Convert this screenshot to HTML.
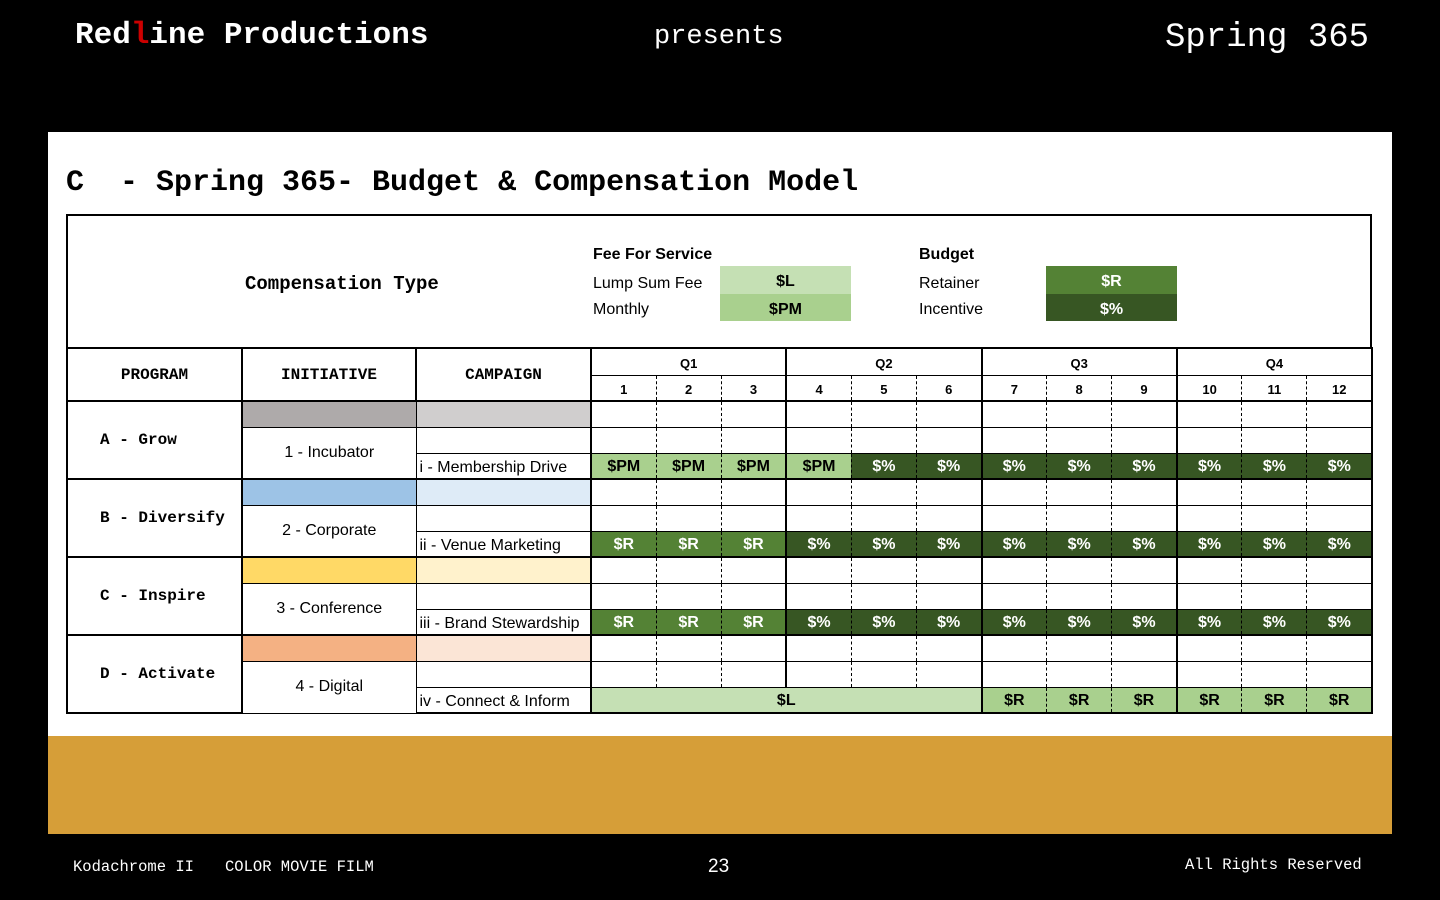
<!DOCTYPE html>
<html><head><meta charset="utf-8"><style>
*{margin:0;padding:0;box-sizing:border-box}
body{width:1440px;height:900px;background:#000;position:relative;overflow:hidden;font-family:"Liberation Sans",sans-serif}
.mono{font-family:"Liberation Mono",monospace;font-weight:bold}
.abs{position:absolute;white-space:nowrap}
.cal{font-family:"Liberation Sans Narrow","Liberation Sans",sans-serif}
#panel{position:absolute;left:48px;top:132px;width:1344px;height:604px;background:#fff}
#gold{position:absolute;left:48px;top:736px;width:1344px;height:98px;background:#d69e38}
#box{position:absolute;left:66px;top:214px;width:1306px;height:134px;border:2px solid #000;border-bottom:none}
table{position:absolute;left:66px;top:347px;width:1305px;border-collapse:collapse;table-layout:fixed}
td{border:1px solid #000;height:26px;font-size:16px;text-align:center;vertical-align:middle;padding:0;font-family:"Liberation Sans Narrow","Liberation Sans",sans-serif}
td.h{font-family:"Liberation Mono",monospace;font-weight:bold;font-size:16px;border:2px solid #000}
td.prog{font-family:"Liberation Mono",monospace;font-weight:bold;font-size:16px;text-align:left;padding-left:32px;border:2px solid #000}
td.init{border-left:2px solid #000}
td.camp{text-align:left;padding-left:3px;padding-top:4px}
td.m,td.q{border-right:1px dashed #000}
td.m{border-left:1px dashed #000}
td.q{border-left:2px solid #000}
tr.g td{border-top:2px solid #000}
tr.end td{border-bottom:2px solid #000}
td.pm{background:#a9d08e;font-weight:bold}
td.l{background:#c5e0b4;font-weight:bold}
td.r{background:#548235;color:#fff;font-weight:bold}
td.p{background:#375623;color:#fff;font-weight:bold}
td.rl{background:#a9d08e;font-weight:bold}
td.sm{font-size:13px;font-weight:bold;height:26px;padding-top:3px}
tr.hd1 td.sm{height:27px;border-right:2px solid #000}
td.last{border-right:2px solid #000 !important}
td.pm,td.r,td.p,td.rl,td.l{padding-top:3px}
</style></head><body>
<div class="abs mono" style="left:75px;top:18px;font-size:31px;color:#fff">Red<span style="color:#c00">l</span>ine Productions</div>
<div class="abs mono" style="left:654px;top:22px;font-size:27px;color:#fff;font-weight:normal">presents</div>
<div class="abs mono" style="left:1165px;top:19px;font-size:34px;color:#fff;font-weight:normal">Spring 365</div>
<div id="panel"></div>
<div id="gold"></div>
<div class="abs mono" style="left:66px;top:166px;font-size:30px;color:#000">C&nbsp;&nbsp;- Spring 365- Budget &amp; Compensation Model</div>
<div id="box"></div>
<div class="abs mono" style="left:245px;top:273px;font-size:19px">Compensation Type</div>
<div class="abs cal" style="left:593px;top:246px;font-size:16px;font-weight:bold">Fee For Service</div>
<div class="abs cal" style="left:593px;top:275px;font-size:16px">Lump Sum Fee</div>
<div class="abs cal" style="left:593px;top:301px;font-size:16px">Monthly</div>
<div class="abs cal" style="left:720px;top:266px;width:131px;height:28px;background:#c5e0b4;text-align:center;line-height:32px;font-weight:bold;font-size:16px">$L</div>
<div class="abs cal" style="left:720px;top:294px;width:131px;height:27px;background:#a9d08e;text-align:center;line-height:31px;font-weight:bold;font-size:16px">$PM</div>
<div class="abs cal" style="left:919px;top:246px;font-size:16px;font-weight:bold">Budget</div>
<div class="abs cal" style="left:919px;top:275px;font-size:16px">Retainer</div>
<div class="abs cal" style="left:919px;top:301px;font-size:16px">Incentive</div>
<div class="abs cal" style="left:1046px;top:266px;width:131px;height:28px;background:#548235;color:#fff;text-align:center;line-height:32px;font-weight:bold;font-size:16px">$R</div>
<div class="abs cal" style="left:1046px;top:294px;width:131px;height:27px;background:#375623;color:#fff;text-align:center;line-height:31px;font-weight:bold;font-size:16px">$%</div>

<table>
<colgroup><col style="width:175px"><col style="width:174px"><col style="width:175px"><col span="12" style="width:65.08px"></colgroup>
<tr class="hd1"><td class="h" rowspan="2">PROGRAM</td><td class="h" rowspan="2">INITIATIVE</td><td class="h" rowspan="2">CAMPAIGN</td><td class="sm q" colspan="3" style="border-top:2px solid #000">Q1</td><td class="sm q" colspan="3" style="border-top:2px solid #000">Q2</td><td class="sm q" colspan="3" style="border-top:2px solid #000">Q3</td><td class="sm q last" colspan="3" style="border-top:2px solid #000">Q4</td></tr>
<tr><td class="sm q">1</td><td class="sm m">2</td><td class="sm m">3</td><td class="sm q">4</td><td class="sm m">5</td><td class="sm m">6</td><td class="sm q">7</td><td class="sm m">8</td><td class="sm m">9</td><td class="sm q">10</td><td class="sm m">11</td><td class="sm m last">12</td></tr>

<tr class="g"><td class="prog" rowspan="3">A - Grow</td><td style="background:#aeaaaa"></td><td style="background:#d0cece"></td><td class="q"></td><td class="m"></td><td class="m"></td><td class="q"></td><td class="m"></td><td class="m"></td><td class="q"></td><td class="m"></td><td class="m"></td><td class="q"></td><td class="m"></td><td class="m last"></td></tr>
<tr><td class="init" rowspan="2">1 - Incubator</td><td></td><td class="q"></td><td class="m"></td><td class="m"></td><td class="q"></td><td class="m"></td><td class="m"></td><td class="q"></td><td class="m"></td><td class="m"></td><td class="q"></td><td class="m"></td><td class="m last"></td></tr>
<tr><td class="camp">i - Membership Drive</td><td class="q pm">$PM</td><td class="m pm">$PM</td><td class="m pm">$PM</td><td class="q pm">$PM</td><td class="m p">$%</td><td class="m p">$%</td><td class="q p">$%</td><td class="m p">$%</td><td class="m p">$%</td><td class="q p">$%</td><td class="m p">$%</td><td class="m p last">$%</td></tr>

<tr class="g"><td class="prog" rowspan="3">B - Diversify</td><td style="background:#9dc3e6"></td><td style="background:#deebf7"></td><td class="q"></td><td class="m"></td><td class="m"></td><td class="q"></td><td class="m"></td><td class="m"></td><td class="q"></td><td class="m"></td><td class="m"></td><td class="q"></td><td class="m"></td><td class="m last"></td></tr>
<tr><td class="init" rowspan="2">2 - Corporate</td><td></td><td class="q"></td><td class="m"></td><td class="m"></td><td class="q"></td><td class="m"></td><td class="m"></td><td class="q"></td><td class="m"></td><td class="m"></td><td class="q"></td><td class="m"></td><td class="m last"></td></tr>
<tr><td class="camp">ii - Venue Marketing</td><td class="q r">$R</td><td class="m r">$R</td><td class="m r">$R</td><td class="q p">$%</td><td class="m p">$%</td><td class="m p">$%</td><td class="q p">$%</td><td class="m p">$%</td><td class="m p">$%</td><td class="q p">$%</td><td class="m p">$%</td><td class="m p last">$%</td></tr>

<tr class="g"><td class="prog" rowspan="3">C - Inspire</td><td style="background:#ffd966"></td><td style="background:#fff2cc"></td><td class="q"></td><td class="m"></td><td class="m"></td><td class="q"></td><td class="m"></td><td class="m"></td><td class="q"></td><td class="m"></td><td class="m"></td><td class="q"></td><td class="m"></td><td class="m last"></td></tr>
<tr><td class="init" rowspan="2">3 - Conference</td><td></td><td class="q"></td><td class="m"></td><td class="m"></td><td class="q"></td><td class="m"></td><td class="m"></td><td class="q"></td><td class="m"></td><td class="m"></td><td class="q"></td><td class="m"></td><td class="m last"></td></tr>
<tr><td class="camp">iii - Brand Stewardship</td><td class="q r">$R</td><td class="m r">$R</td><td class="m r">$R</td><td class="q p">$%</td><td class="m p">$%</td><td class="m p">$%</td><td class="q p">$%</td><td class="m p">$%</td><td class="m p">$%</td><td class="q p">$%</td><td class="m p">$%</td><td class="m p last">$%</td></tr>

<tr class="g"><td class="prog" rowspan="3" style="border-bottom:2px solid #000">D - Activate</td><td style="background:#f4b183"></td><td style="background:#fbe5d6"></td><td class="q"></td><td class="m"></td><td class="m"></td><td class="q"></td><td class="m"></td><td class="m"></td><td class="q"></td><td class="m"></td><td class="m"></td><td class="q"></td><td class="m"></td><td class="m last"></td></tr>
<tr><td class="init" rowspan="2">4 - Digital</td><td></td><td class="q"></td><td class="m"></td><td class="m"></td><td class="q"></td><td class="m"></td><td class="m"></td><td class="q"></td><td class="m"></td><td class="m"></td><td class="q"></td><td class="m"></td><td class="m last"></td></tr>
<tr class="end"><td class="camp">iv - Connect &amp; Inform</td><td class="q l" colspan="6" style="border-right:2px solid #000">$L</td><td class="q rl">$R</td><td class="m rl">$R</td><td class="m rl">$R</td><td class="q rl">$R</td><td class="m rl">$R</td><td class="m rl last">$R</td></tr>
</table>

<div class="abs mono" style="left:73px;top:858px;font-size:15.5px;color:#fff;font-weight:normal">Kodachrome II</div>
<div class="abs mono" style="left:225px;top:858px;font-size:15.5px;color:#fff;font-weight:normal">COLOR MOVIE FILM</div>
<div class="abs" style="left:708px;top:856px;font-size:19px;color:#fff">23</div>
<div class="abs mono" style="left:1185px;top:856px;font-size:15.5px;color:#fff;font-weight:normal">All Rights Reserved</div>
</body></html>
